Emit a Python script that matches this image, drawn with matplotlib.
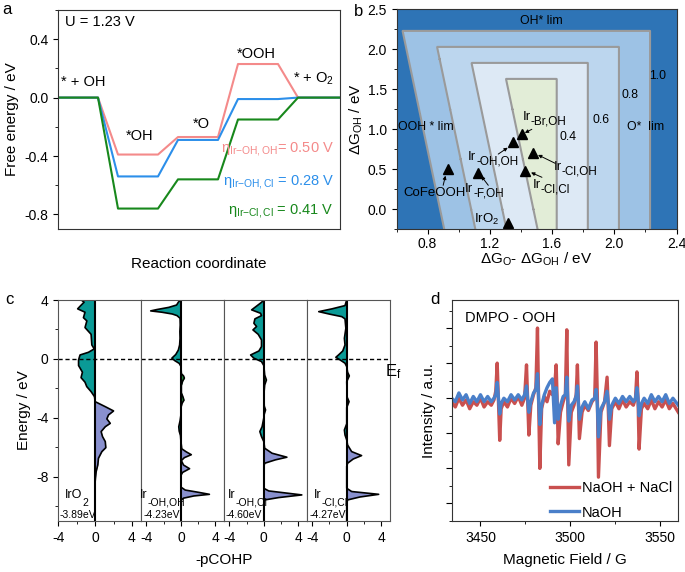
import numpy as np
import matplotlib
matplotlib.use('Agg')
import matplotlib.pyplot as plt
import matplotlib.ticker as ticker

plt.rcParams['font.family'] = ['Liberation Sans', 'DejaVu Sans']
plt.rcParams['mathtext.fontset'] = 'custom'
plt.rcParams['mathtext.rm'] = 'Liberation Sans'
plt.rcParams['mathtext.it'] = 'Liberation Sans:italic'
plt.rcParams['mathtext.default'] = 'regular'
plt.rcParams['axes.unicode_minus'] = False
plt.rcParams['font.size'] = 10
plt.rcParams['axes.edgecolor'] = '#333333'
plt.rcParams['xtick.direction'] = 'out'
plt.rcParams['ytick.direction'] = 'out'

# ---- panel a: free energy diagram (U = 1.23 V)
states = ['* + OH', '*OH', '*O', '*OOH', '* + O$_2$']
g_oh_oh = [0.0, -0.39, -0.27, 0.23, 0.0]
g_oh_cl = [0.0, -0.54, -0.29, -0.01, 0.0]
g_cl_cl = [0.0, -0.76, -0.56, -0.15, 0.0]

# ---- panel b: volcano / activity map
contour_levels = [0.4, 0.6, 0.8, 1.0]
ooh_slope = -0.108      # d(dG3)/d(dG_OH) read from the tilted boundaries
ooh_offset = 3.11
cat_main = ['Ir', 'Ir', 'Ir', 'Ir', 'Ir', 'CoFeOOH', 'IrO$_2$']
cat_sub = ['-Br,OH', '-OH,OH', '-Cl,OH', '-Cl,Cl', '-F,OH', '', '']
cat_x = [1.407, 1.35, 1.475, 1.429, 1.126, 0.93, 1.318]
cat_y = [0.94, 0.845, 0.70, 0.479, 0.45, 0.50, -0.167]

# ---- panel c: -pCOHP
E1 = [4.0, 3.85, 3.6, 3.4, 3.17, 2.8, 2.58, 2.13, 1.67, 0.95, 0.68, 0.45, 0.27, -0.07, -0.45,
      -0.9, -1.27, -1.58, -1.88, -2.22, -2.56, -2.9, -3.24, -3.53, -3.8, -4.07, -4.37, -4.6,
      -4.93, -5.27, -5.61, -6.02, -6.29, -6.74, -7.19, -7.65, -8.05, -8.33, -11.0]
V1 = [-1.5, -1.2, -1.6, -1.9, -1.1, -1.27, -0.9, -1.1, -0.44, -0.36, -0.1, -0.73, -1.64, -1.8, -1.8,
      -1.38, -1.53, -1.1, -0.91, -0.44, -0.07, 0.0, 1.1, 2.0, 1.45, 1.27, 1.64, 1.1,
      0.65, 0.8, 1.1, 1.16, 0.73, 0.36, 0.29, 0.11, 0.04, 0.0, 0.0]
E2 = [4.0, 3.85, 3.66, 3.5, 3.35, 3.26, 3.17, 3.05, 2.94, 2.76, 2.3, 1.86, 1.4, 0.95, 0.6,
      0.3, 0.05, -0.12, -0.3, -0.5, -1.0, -1.15, -1.3, -1.5, -1.8, -2.3, -2.6, -2.8, -3.0, -3.3,
      -3.8, -4.2, -4.6, -4.9, -5.2, -5.6, -6.1, -6.3, -6.5, -6.7, -6.9, -7.2, -7.45, -7.7, -7.9,
      -8.7, -8.9, -9.05, -9.19, -9.3, -9.45, -9.6, -11.0]
V2 = [-0.05, -0.3, -0.5, -1.4, -2.8, -3.5, -2.2, -1.0, -0.45, -0.1, -0.08, -0.12, -0.1, -0.15, -0.3,
      -0.6, -1.05, -0.7, -0.2, 0.0, 0.05, 0.3, 0.4, 0.2, 0.05, 0.05, 0.25, 0.35, 0.15, 0.0,
      0.0, -0.1, -0.25, -0.2, -0.05, 0.0, 0.1, 0.6, 1.2, 0.4, 0.05, 0.3, 1.0, 0.2, 0.0,
      0.0, 0.5, 2.0, 3.3, 1.5, 0.3, 0.0, 0.0]
E3 = [4.0, 3.84, 3.33, 3.1, 2.94, 2.72, 2.42, 2.2, 1.97, 1.67, 1.29, 0.84, 0.54, 0.27, 0.05,
      -0.18, -0.45, -1.09, -1.43, -1.77, -2.44, -3.2, -3.46, -3.75, -4.0, -4.6, -4.93, -5.27,
      -5.61, -6.06, -6.4, -6.67, -6.85, -7.08, -7.3, -8.78, -8.96, -9.23, -9.41, -9.57, -9.8, -11.0]
V3 = [0.0, -0.27, -1.41, -0.38, -0.27, -1.03, -1.15, -0.84, -1.26, -0.65, -0.27, -0.27, -0.57, -1.53, -1.15,
      -0.27, 0.0, 0.1, 0.3, 0.1, 0.0, 0.05, 0.2, 0.05, 0.0, -0.2, -0.46, -0.27,
      0.0, 0.1, 0.95, 2.67, 1.34, 0.1, 0.0, 0.0, 0.57, 4.4, 1.72, 0.1, 0.0, 0.0]
E4 = [4.0, 3.62, 3.4, 3.21, 3.03, 2.87, 2.72, 2.08, 1.4, 0.95, 0.54, 0.27, 0.11, -0.07, -0.29,
      -0.52, -0.9, -1.15, -1.54, -2.6, -2.9, -3.3, -4.4, -4.82, -5.16, -5.5, -5.84, -6.29, -6.56,
      -6.79, -7.08, -7.3, -8.78, -9.0, -9.19, -9.37, -9.57, -9.8, -11.0]
V4 = [0.0, -0.2, -1.7, -3.24, -1.9, -0.57, -0.2, -0.1, -0.27, -0.2, -0.46, -0.95, -1.26, -0.76, -0.2,
      0.0, 0.1, 0.3, 0.0, 0.05, 0.27, 0.0, 0.0, -0.27, -0.2, 0.0, 0.1, 0.57, 1.72,
      0.76, 0.1, 0.0, 0.0, 0.57, 3.7, 1.53, 0.1, 0.0, 0.0]
cohp_main = ['IrO', 'Ir', 'Ir', 'Ir']
cohp_sub = ['2', '-OH,OH', '-OH,Cl', '-Cl,Cl']
icohp = ['-3.89eV', '-4.23eV', '-4.60eV', '-4.27eV']

# ---- panel d: EPR
field = [3434, 3436, 3438, 3440, 3442, 3444, 3446, 3448, 3450, 3452,
         3454, 3456, 3457.5, 3458.5, 3459.3, 3460.0, 3460.7, 3461.5, 3463, 3465,
         3467, 3469, 3471, 3473, 3474.5, 3475.6, 3476.2, 3476.9, 3478, 3479.5,
         3480.8, 3481.7, 3482.3, 3483.0, 3484, 3485.5, 3487, 3488.5, 3490, 3491.2,
         3492.1, 3492.6, 3493.2, 3494.5, 3496, 3497.2, 3498.0, 3498.5, 3499.1, 3500.5,
         3502, 3503.2, 3503.9, 3504.4, 3505.0, 3506.5, 3508, 3510, 3512, 3513.5,
         3514.3, 3515.0, 3515.6, 3517, 3519, 3520.4, 3521.0, 3521.7, 3523, 3525,
         3527, 3529, 3531, 3533, 3535, 3536.2, 3537.0, 3537.6, 3538.2, 3539.5,
         3541, 3543, 3545, 3547, 3549, 3551, 3553, 3555, 3557, 3560]
epr_nacl = [-0.1, -0.25, 0.0, -0.2, -0.05, -0.3, -0.1, -0.2, 0.0, -0.25,
            -0.1, -0.2, -0.05, 0.2, 1.0, -0.1, -1.2, -0.3, -0.1, -0.25,
            0.0, -0.15, 0.05, -0.2, 0.0, 0.95, 0.0, -1.05, -0.2, 0.1,
            0.3, 2.0, 0.0, -2.0, -0.3, 0.05, -0.1, 0.2, 0.1, 0.3,
            0.95, 0.0, -1.3, -0.4, -0.1, 0.1, 1.95, 0.0, -1.9, -0.4,
            -0.2, 0.1, 0.95, 0.0, -1.15, -0.4, -0.2, -0.35, -0.1, 0.0,
            1.6, 0.0, -2.25, -0.4, -0.1, 0.6, -0.2, -1.35, -0.3, -0.1,
            -0.3, -0.05, -0.25, -0.1, -0.2, 0.0, 0.75, 0.0, -1.45, -0.3,
            -0.15, -0.3, -0.05, -0.3, -0.1, -0.25, -0.05, -0.3, -0.15, -0.4]
epr_naoh = [0.0, -0.1, 0.15, -0.05, 0.1, -0.15, 0.05, -0.1, 0.1, -0.1,
            0.05, -0.1, 0.0, 0.1, 0.45, 0.0, -0.45, -0.15, 0.0, -0.1,
            0.1, -0.05, 0.1, -0.05, 0.1, 0.35, 0.0, -0.4, -0.1, 0.15,
            0.25, 0.7, 0.0, -0.75, -0.2, 0.1, 0.3, 0.45, 0.55, -0.7,
            0.3, -0.1, -0.6, -0.2, 0.05, 0.1, 0.6, 0.0, -0.65, -0.2,
            -0.1, 0.05, 0.35, -0.1, -0.6, -0.25, -0.1, -0.3, -0.05, 0.0,
            0.25, -0.2, -1.1, -0.3, -0.1, 0.2, -0.1, -0.6, -0.2, 0.0,
            -0.15, 0.05, -0.1, 0.05, -0.1, 0.0, 0.3, 0.0, -0.5, -0.15,
            0.0, -0.15, 0.1, -0.1, 0.05, -0.1, 0.1, -0.15, 0.0, -0.2]

W, H = 685, 572
fig = plt.figure(figsize=(W / 100, H / 100), dpi=100)


def box(l, t, r, b):
    return [l / W, 1 - b / H, (r - l) / W, (b - t) / H]


def sub_text(ax, x, y, main, sub, fs, sfs, ha='left', drop=0.22):
    # main text plus a separately sized subscript hung off its right edge
    t = ax.text(x, y, main, fontsize=fs, ha=ha, va='center')
    if sub:
        ax.annotate(sub, xy=(1.0, drop), xycoords=t, fontsize=sfs, ha='left', va='top')
    return t


# ================= a =================
ax = fig.add_axes(box(58, 10, 340, 229))
for g, c in [(g_oh_oh, '#F48A8A'), (g_oh_cl, '#2C8FEA'), (g_cl_cl, '#18881C')]:
    xs, ys = [], []
    for i, v in enumerate(g):
        xs += [3 * i, 3 * i + 2 if i < len(g) - 1 else 15]
        ys += [v, v]
    ax.plot(xs, ys, color=c, lw=1.5)
ax.set_xlim(0, 14.1)
ax.set_ylim(-0.9, 0.6)
ax.set_xticks([])
ax.yaxis.set_major_locator(ticker.MultipleLocator(0.4))
ax.yaxis.set_minor_locator(ticker.MultipleLocator(0.2))
ax.set_ylabel('Free energy / eV', fontsize=11)
ax.set_xlabel('Reaction coordinate', fontsize=11, labelpad=20)
ax.text(0.35, 0.52, 'U = 1.23 V', fontsize=10.5, va='center')
lab_pos = [(1.27, 0.105), (4.1, -0.26), (7.18, -0.18), (9.93, 0.30), (12.8, 0.13)]
for s, (x, y) in zip(states, lab_pos):
    ax.text(x, y, s, fontsize=10.5, ha='center', va='center')
ax.text(13.8, -0.35, r'$\eta_{Ir{-}OH,OH}$= 0.50 V', color='#F48A8A', ha='right', va='center', fontsize=10.5)
ax.text(13.8, -0.575, r'$\eta_{Ir{-}OH,Cl}$ = 0.28 V', color='#2C8FEA', ha='right', va='center', fontsize=10.5)
ax.text(13.8, -0.78, r'$\eta_{Ir{-}Cl,Cl}$ = 0.41 V', color='#18881C', ha='right', va='center', fontsize=10.5)

# ================= b =================
bx = fig.add_axes(box(396.5, 9.3, 676.5, 229.3))
gx = np.linspace(0.6, 2.4, 721)
gy = np.linspace(-0.25, 2.5, 551)
X, Y = np.meshgrid(gx, gy)
eta = np.maximum.reduce([Y, X, ooh_slope * Y + ooh_offset - X]) - 1.23
fill_cols = ['#E2EDD7', '#DDE9F5', '#BCD6EE', '#9DC2E5', '#2E74B6']
bx.contourf(X, Y, eta, levels=[eta.min() - 1] + contour_levels + [eta.max() + 1], colors=fill_cols)
bx.contour(X, Y, eta, levels=contour_levels, colors='#9A9A9A', linewidths=1.5)
bx.plot(cat_x, cat_y, '^', color='k', ms=6.5)
bx.set_xlim(0.6, 2.4)
bx.set_ylim(-0.25, 2.5)
bx.xaxis.set_major_locator(ticker.MultipleLocator(0.4))
bx.xaxis.set_minor_locator(ticker.MultipleLocator(0.2))
bx.yaxis.set_major_locator(ticker.MultipleLocator(0.5))
bx.yaxis.set_minor_locator(ticker.MultipleLocator(0.25))
bx.tick_params(axis='x', pad=2)
bx.set_xlabel(r'$\Delta G_{O}$- $\Delta G_{OH}$ / eV', fontsize=11, labelpad=0)
bx.set_ylabel(r'$\Delta G_{OH}$ / eV', fontsize=11, labelpad=2)
bx.text(1.53, 2.35, 'OH* lim', ha='center', va='center', fontsize=8.8)
bx.text(0.79, 1.03, 'OOH * lim', ha='center', va='center', fontsize=8.8)
bx.text(2.2, 1.03, 'O*  lim', ha='center', va='center', fontsize=8.8)
for lv, (x, y) in zip(contour_levels, [(1.70, 0.91), (1.914, 1.12), (2.104, 1.43), (2.276, 1.666)]):
    bx.text(x, y, f'{lv:.1f}', ha='center', va='center', fontsize=8.8)
txt_pos = [(1.41, 1.16, 'left'), (1.06, 0.65, 'left'), (1.61, 0.53, 'left'), (1.475, 0.30, 'left'),
           (1.04, 0.26, 'left'), (0.846, 0.20, 'center'), (1.26, -0.13, 'right')]
for m, s, (x, y, ha) in zip(cat_main, cat_sub, txt_pos):
    sub_text(bx, x, y, m, s, 9.5, 8.5, ha, drop=0.62)
arrows = [((1.47, 1.0), (1.425, 0.955)), ((1.254, 0.69), (1.315, 0.77)),
          ((1.62, 0.575), (1.51, 0.68)), ((1.535, 0.40), (1.465, 0.46)),
          ((1.19, 0.30), (1.145, 0.415)), ((0.90, 0.30), (0.915, 0.42))]
for tail, head in arrows:
    bx.annotate('', xy=head, xytext=tail,
                arrowprops=dict(arrowstyle='-|>', lw=0.7, color='k', mutation_scale=5,
                                shrinkA=0, shrinkB=0))

# ================= c =================
teal, purple, green = '#0A9A96', '#8990CE', '#1E8E3A'
curves = [(E1, V1), (E2, V2), (E3, V3), (E4, V4)]
lefts = [58.3, 141.2, 224.1, 307.0]
name_x = [-3.3, -4.75, -4.2, -3.8]
val_x = [-3.9, -4.3, -4.4, -4.35]
for k, ((E, V), l) in enumerate(zip(curves, lefts)):
    cx = fig.add_axes(box(l, 300, l + 82.9, 521))
    E = np.array(E)
    V = np.array(V)
    cx.fill_betweenx(E, 0, V, where=V <= 0, color=teal, interpolate=True, lw=0)
    cx.fill_betweenx(E, 0, V, where=(V >= 0) & (E > -2.95), color=green, interpolate=True, lw=0)
    cx.fill_betweenx(E, 0, V, where=(V >= 0) & (E <= -2.95), color=purple, interpolate=True, lw=0)
    cx.plot(V, E, color='k', lw=1.2)
    cx.axvline(0, color='k', lw=1.5)
    cx.axhline(0, color='k', lw=1, ls='--', dashes=(3, 2))
    cx.set_xlim(-4 if k == 0 else -4.6, 5)
    cx.set_ylim(-11, 4)
    cx.xaxis.set_major_locator(ticker.FixedLocator([-4, 0, 4]))
    cx.xaxis.set_minor_locator(ticker.FixedLocator([-2, 2]))
    for sp in cx.spines.values():
        sp.set_color('#555555')
    if k == 0:
        cx.yaxis.set_major_locator(ticker.MultipleLocator(4))
        cx.yaxis.set_minor_locator(ticker.MultipleLocator(2))
        cx.set_ylabel('Energy / eV', fontsize=11, labelpad=4)
    else:
        cx.set_yticks([])
    sub_text(cx, name_x[k], -9.25, cohp_main[k], cohp_sub[k], 9, 7.5, drop=0.3)
    cx.text(val_x[k], -10.6, icohp[k], fontsize=7.5, va='center')
fig.text(224 / W, 1 - 560 / H, '-pCOHP', ha='center', va='center', fontsize=11)
fig.text(393 / W, 1 - 372 / H, 'E$_f$', ha='center', va='center', fontsize=12)

# ================= d =================
dx = fig.add_axes(box(451.7, 300, 678.3, 521))
dx.plot(field, epr_nacl, color='#C9504F', lw=2.4, label='NaOH + NaCl')
dx.plot(field, epr_naoh, color='#4A7FC9', lw=2.4, label='NaOH')
dx.set_xlim(3434, 3560)
dx.set_ylim(-3.5, 2.8)
dx.xaxis.set_major_locator(ticker.MultipleLocator(50))
dx.xaxis.set_minor_locator(ticker.MultipleLocator(25))
dx.yaxis.set_major_locator(ticker.MultipleLocator(1))
dx.yaxis.set_minor_locator(ticker.MultipleLocator(0.5))
dx.yaxis.set_major_formatter(ticker.NullFormatter())
dx.tick_params(axis='y', which='major', length=4)
dx.tick_params(axis='y', which='minor', length=2.5)
dx.set_xlabel('Magnetic Field / G', fontsize=11, labelpad=6)
dx.set_ylabel('Intensity / a.u.', fontsize=11, labelpad=4)
dx.text(0.06, 0.92, 'DMPO - OOH', transform=dx.transAxes, fontsize=10.5, va='center')
dx.legend(loc='lower right', frameon=False, fontsize=10.5, handlelength=2.0,
          handletextpad=0.2, labelspacing=0.7, borderaxespad=0.0,
          bbox_to_anchor=(1.0, -0.02))

for lab, (x, y) in zip('abcd', [(2, 10), (354, 12), (5, 300), (430, 300)]):
    fig.text(x / W, 1 - y / H, lab, fontsize=12, va='center')

fig.savefig('out.png', dpi=100)
